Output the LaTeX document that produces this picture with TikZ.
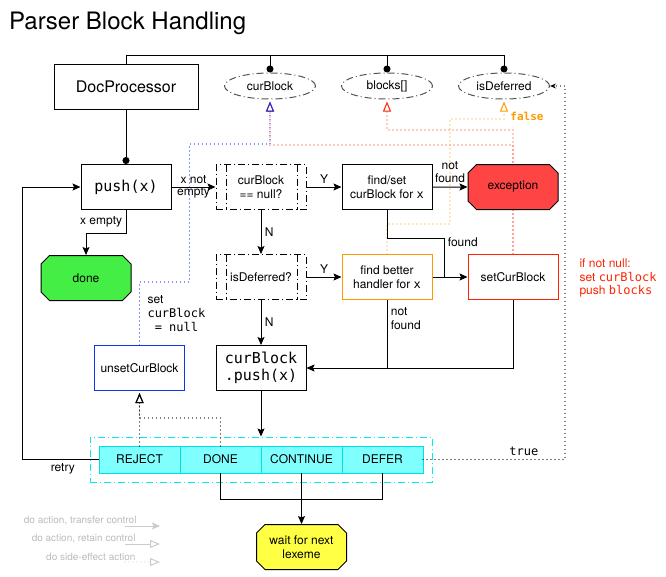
\documentclass[tikz,border=0pt]{standalone}
\usepackage{fontspec}
\setmainfont{TeX Gyre Heros}
\setmonofont{DejaVu Sans Mono}
\usetikzlibrary{arrows.meta, shapes.geometric, shapes.misc, positioning, fit, backgrounds, calc}

\definecolor{exred}{HTML}{FF4444}
\definecolor{donegreen}{HTML}{44EE44}
\definecolor{waityellow}{HTML}{FFFF44}
\definecolor{cellcyan}{HTML}{80FFFF}
\definecolor{cellline}{HTML}{00E0E0}
\definecolor{grpcyan}{HTML}{00EEEE}
\definecolor{setblue}{HTML}{1133EE}
\definecolor{hdlorange}{HTML}{FF9900}
\definecolor{setred}{HTML}{FF2200}
\definecolor{legendgray}{HTML}{BBBBBB}
\definecolor{legendline}{HTML}{CCCCCC}
\definecolor{varline}{HTML}{555555}

\tikzset{
    dashdotline/.style={dash pattern=on 7pt off 3pt on 1pt off 3pt},
    dotline/.style={line cap=round, dash pattern=on 0pt off 4pt},
    box/.style={draw, line width=1pt, minimum width=90pt, minimum height=45pt,
        align=center, inner sep=2pt},
    var/.style={ellipse, draw=varline, dashdotline, line width=1pt,
        minimum width=91pt, minimum height=26pt, inner sep=0pt},
    cond/.style={box, dashdotline,
        path picture={
            \draw[dashdotline, line width=1pt]
                ([xshift=10pt]path picture bounding box.north west) --
                ([xshift=10pt]path picture bounding box.south west);
            \draw[dashdotline, line width=1pt]
                ([xshift=-9pt]path picture bounding box.north east) --
                ([xshift=-9pt]path picture bounding box.south east);
        }},
    term/.style={chamfered rectangle, chamfered rectangle xsep=5pt, draw,
        line width=1pt, minimum width=90pt, minimum height=45pt,
        align=center, inner sep=1pt},
    cell/.style={draw=cellline, fill=cellcyan, line width=1pt, outer sep=0pt,
        minimum width=81pt, minimum height=27pt, inner sep=0pt},
    flow/.style={line width=1pt, -{Stealth[length=8pt, width=7pt, inset=1.5pt]}},
    own/.style={line width=1pt, -{Circle[length=7pt]}},
    side/.style={line width=1.4pt, dotline, shorten >=2pt,
        -{Triangle[open, length=10pt, width=8pt, line width=1pt]}},
    mono/.style={font=\ttfamily\fontsize{15}{17}\selectfont},
}

\begin{document}
\begin{tikzpicture}[x=1pt, y=-1pt, font=\fontsize{12}{13.5}\selectfont]
\useasboundingbox (0,0) rectangle (666,576);

\node[anchor=base west, inner sep=0pt, font=\fontsize{24}{28}\selectfont] (title) at (9,29) {Parser Block Handling};

% owner and its variables
\node[box, minimum width=144pt, font=\fontsize{16}{18}\selectfont] (doc) at (126,86.5) {DocProcessor};
\node[var] (curblk) at (270,86) {curBlock};
\node[var] (blocks) at (387,86) {blocks[]};
\node[var] (isdef) at (504,86) {isDeferred};

% main flow
\node[box, mono] (push) at (126,187) {push(x)};
\node[cond] (cnull) at (261,187) {curBlock\\== null?};
\node[box] (findset) at (387,187) {find/set\\curBlock for \texttt{x}};
\node[term, fill=exred] (exc) at (513,187) {exception};
\node[term, fill=donegreen] (done) at (86,278) {done};
\node[cond] (cdefer) at (261,277) {isDeferred?};
\node[box, draw=hdlorange] (better) at (387,277) {find better\\handler for \texttt{x}};
\node[box, draw=setred] (setcur) at (513,277) {setCurBlock};
\node[box, draw=setblue] (unset) at (139.5,368) {unsetCurBlock};
\node[box, mono, align=left] (cbpush) at (261,368) {curBlock\\.push(x)};

% results
\node[cell] (reject) at (139.5,459.5) {REJECT};
\node[cell, right=0pt of reject] (rdone) {DONE};
\node[cell, right=0pt of rdone] (rcont) {CONTINUE};
\node[cell, right=0pt of rcont] (rdefer) {DEFER};
\node[fit=(reject)(rdefer), draw=grpcyan, dashdotline, line width=1pt, inner sep=9pt] (grp) {};
\node[term, fill=waityellow] (wait) at (301.5,547) {wait for next\\lexeme};

% notes
\node[anchor=west, align=left, text=setred] (note) at (576,278) {if not null:\\set \texttt{curBlock}\\push \texttt{blocks}};
\node[anchor=west, align=left, font=\fontsize{12}{14}\selectfont] (nulllbl) at (144,314) {set\\\texttt{curBlock}\\\texttt{\ = null}};
\node[text=hdlorange, font=\ttfamily\bfseries\fontsize{11}{13}\selectfont] (falselbl) at (527,116) {false};

% legend
\node[anchor=east, text=legendgray, font=\fontsize{10}{12}\selectfont] (lg1) at (140,521) {do action, transfer control};
\node[anchor=east, text=legendgray, font=\fontsize{10}{12}\selectfont] (lg2) at (139,539) {do action, retain control};
\node[anchor=east, text=legendgray, font=\fontsize{10}{12}\selectfont] (lg3) at (139,557) {do side-effect action};
\coordinate (la1) at (125,526); \coordinate (lb1) at (160,526);
\coordinate (la2) at (125,544); \coordinate (lb2) at (160,544);
\coordinate (la3) at (125,562); \coordinate (lb3) at (160,562);
\draw[legendline, flow] (la1) -- (lb1);
\draw[legendline, line width=1pt, -{Triangle[open, length=10pt, width=8pt]}] (la2) -- (lb2);
\draw[legendline, side, shorten >=0pt] (la3) -- (lb3);

% ownership
\coordinate (bus) at (0,55);
\draw[line width=1pt] (doc.north) |- (isdef.north |- bus);
\draw[own] (curblk.north |- bus) -- (curblk.north);
\draw[own] (blocks.north |- bus) -- (blocks.north);
\draw[own] (isdef.north |- bus) -- (isdef.north);
\draw[own] (doc.south) -- (push.north);

% control flow
\draw[flow] (push.east) -- node[align=center, font=\fontsize{12}{12}\selectfont] {x not\\empty} (cnull.west);
\draw[flow] (push.south) -- node[left] {x empty} ++(0,23) -| (done.north);
\draw[flow] (cnull) -- node[above] {Y} (findset);
\draw[flow] (findset) -- node[above, align=center, font=\fontsize{12}{13}\selectfont] {not\\found} (exc);
\draw[flow] (cnull) -- node[right] {N} (cdefer);
\draw[flow] (cdefer) -- node[above] {Y} (better);
\draw[flow] (cdefer) -- node[right] {N} (cbpush);
\coordinate (junc) at (444,277);
\draw[line width=1pt] (findset.south) -- ++(0,28) -| node[pos=0.56, right] {found} (junc);
\draw[flow] (better) -- (setcur);
\draw[line width=1pt] (better.south) -- node[pos=0.28, anchor=west, align=left, font=\fontsize{12}{14}\selectfont] {not\\found} (better.south |- cbpush.east);
\draw[flow] (setcur.south) |- (cbpush.east);
\draw[flow] (cbpush.south) -- (grp.north);
\draw[flow] (reject.west) -- node[pos=0.47, below] {retry} ++(-77,0) |- (push.west);
\draw[line width=1pt] (rdone.south) -- ++(0,26) -| (rdefer.south);
\draw[flow] (rcont.south) -- (wait.north);

% side effects
\draw[side] (reject.north) -- (reject.north |- unset.south);
\draw[side] (rdone.north) -- ++(0,-28) -| (unset.south);
\draw[side, shorten >=0pt, -{Stealth[length=6pt, width=5pt, line width=0pt]}] (rdefer.east) -- node[pos=0.71, above] {\texttt{true}} ++(142,0) |- (isdef.east);
\begin{scope}[on background layer]
\draw[side, setred] (setcur.north) -- ++(0,-109) -| (curblk.south);
\draw[side, setred] (setcur.north) -- ++(0,-124) -| (blocks.south);
\draw[side, setblue] (unset.north) -- ++(0,-63) -| ++(50,-138) -| (curblk.south);
\draw[side, hdlorange] (better.north) -- ++(0,-30) -| ++(63,-105) -| (isdef.south);
\end{scope}
\end{tikzpicture}
\end{document}
